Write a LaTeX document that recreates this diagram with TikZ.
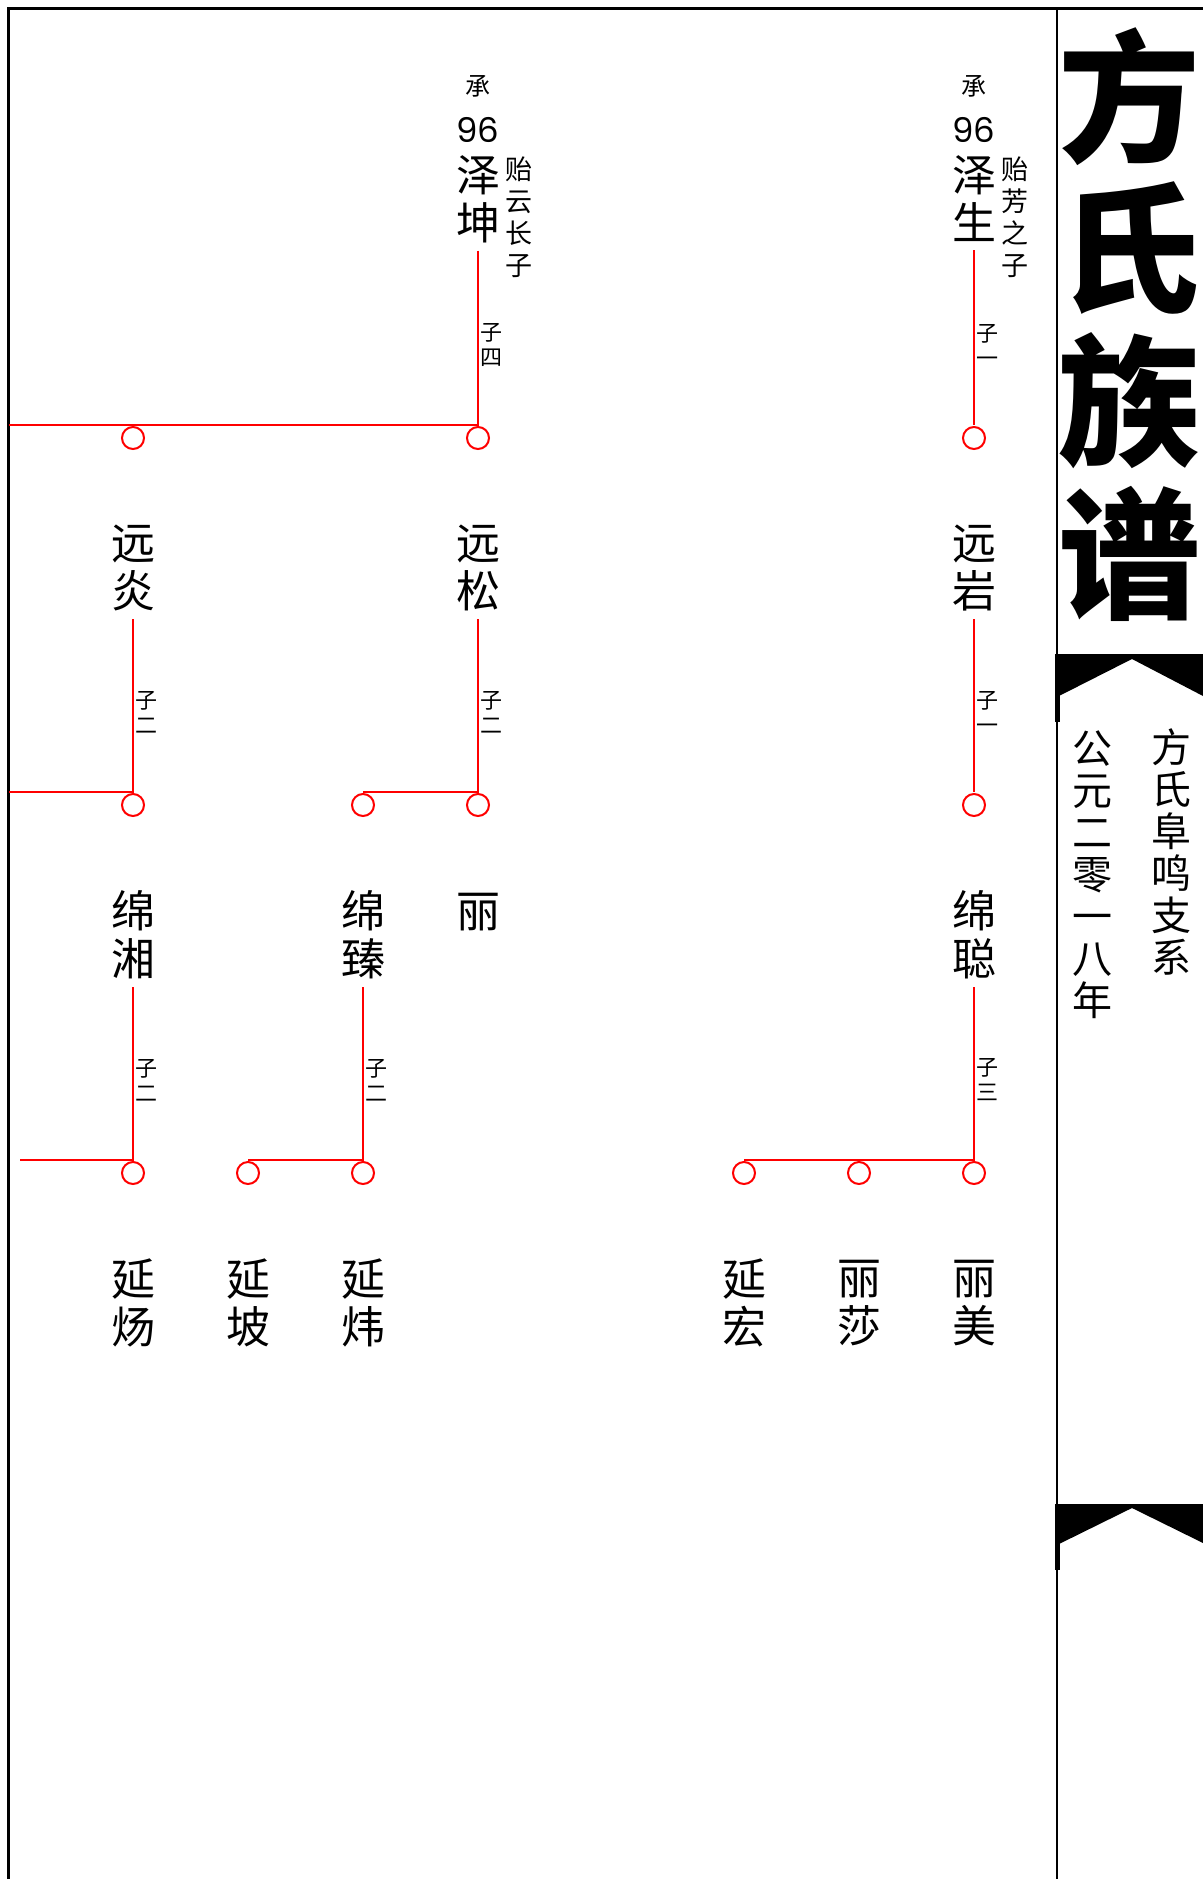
\documentclass[tikz,border=0pt]{standalone}
\usepackage{fontspec}
\setmainfont{Noto Sans CJK SC}
\newfontfamily\numfont{Poppins}
\begin{document}
\begin{tikzpicture}[x=0.5pt,y=-0.5pt,
  redline/.style={red, line width=1pt},
  frameline/.style={black, line width=1.4pt},
  kid/.style={circle, draw=red, line width=1pt, minimum size=11pt, inner sep=0pt},
  pname/.style={font=\fontsize{22pt}{24pt}\selectfont, align=center, inner sep=0pt, outer sep=4pt},
  pnote/.style={font=\fontsize{13.5pt}{16pt}\selectfont, align=center, inner sep=0pt},
  plab/.style={font=\fontsize{11pt}{12.5pt}\selectfont, align=center, inner sep=0pt},
  pcheng/.style={font=\fontsize{12.5pt}{12.5pt}\selectfont, inner sep=0pt},
  pnum/.style={font=\numfont\fontsize{17pt}{17pt}\selectfont, inner sep=0pt},
  ptitle/.style={font=\fontsize{71pt}{71pt}\selectfont\bfseries, inner sep=0pt},
  psub/.style={font=\fontsize{20pt}{21pt}\selectfont, align=center, inner sep=0pt}]
\useasboundingbox (0,0) rectangle (1203,1879);
\fill[white] (0,0) rectangle (1203,1879);

% frame
\draw[frameline] (8.5,1879) -- (8.5,8.5) -- (1203,8.5);
\draw[frameline] (1057,8.5) -- (1057,1879);
\fill[black] (1055,654) rectangle (1059.5,722);
\fill[black] (1055,1504) rectangle (1059.5,1570);
\fill[black] (1057,654) -- (1203,654) -- (1203,696) -- (1132,659) -- (1057,697) -- cycle;
\fill[black] (1057,1504) -- (1203,1504) -- (1203,1543) -- (1132,1508) -- (1057,1545) -- cycle;

% title
\node[ptitle] (t1) at (1129,97) {方};
\node[ptitle] (t2) at (1129,248) {氏};
\node[ptitle] (t3) at (1129,401) {族};
\node[ptitle] (t4) at (1129,554) {谱};
\node[psub] (sub1) at (1171,852) {方\\氏\\阜\\鸣\\支\\系};
\node[psub] (sub2) at (1092,875) {公\\元\\二\\零\\一\\八\\年};

% generation 1
\node[pcheng] (ch1) at (478,86) {承};
\node[pnum] (num1) at (478,130) {96};
\node[pname] (zekun) at (478,199) {泽\\坤};
\node[pnote] (zekunn) at (519,217) {贻\\云\\长\\子};
\node[pcheng] (ch2) at (974,86) {承};
\node[pnum] (num2) at (974,130) {96};
\node[pname] (zesheng) at (974,199) {泽\\生};
\node[pnote] (zeshengn) at (1015,217) {贻\\芳\\之\\子};

\coordinate (j1) at (478,425);
\coordinate (e1) at (8.5,425);
\coordinate (j2) at (974,425);
\node[kid] (k1) at (133,438) {};
\node[kid] (k2) at (478,438) {};
\node[kid] (k3) at (974,438) {};
\draw[redline] (zekun.south) -- (j1) -- (e1);
\draw[redline] (zesheng.south) -- (j2);
\node[plab] (l1) at (491,345) {子\\四};
\node[plab] (l2) at (987,345) {子\\一};

% generation 2
\node[pname] (yuanyan) at (133,568) {远\\炎};
\node[pname] (yuansong) at (478,568) {远\\松};
\node[pname] (yuanyan2) at (974,568) {远\\岩};

\coordinate (j3) at (133,792);
\coordinate (e2) at (8.5,792);
\coordinate (j4) at (478,792);
\coordinate (j5) at (974,792);
\node[kid] (k4) at (133,805) {};
\node[kid] (k5) at (363,805) {};
\node[kid] (k6) at (478,805) {};
\node[kid] (k7) at (974,805) {};
\draw[redline] (yuanyan.south) -- (j3) -- (e2);
\draw[redline] (yuansong.south) -- (j4) -- (j4 -| k5);
\draw[redline] (yuanyan2.south) -- (j5);
\node[plab] (l3) at (146,712) {子\\二};
\node[plab] (l4) at (491,712) {子\\二};
\node[plab] (l5) at (987,712) {子\\一};

% generation 3
\node[pname] (mianxiang) at (133,935) {绵\\湘};
\node[pname] (mianzhen) at (363,935) {绵\\臻};
\node[pname] (li) at (478,912) {丽};
\node[pname] (miancong) at (974,935) {绵\\聪};

\coordinate (j6) at (133,1160);
\coordinate (e3) at (20,1160);
\coordinate (j7) at (363,1160);
\coordinate (j8) at (974,1160);
\node[kid] (k8) at (133,1173) {};
\node[kid] (k9) at (248,1173) {};
\node[kid] (k10) at (363,1173) {};
\node[kid] (k11) at (744,1173) {};
\node[kid] (k12) at (859,1173) {};
\node[kid] (k13) at (974,1173) {};
\draw[redline] (mianxiang.south) -- (j6) -- (e3);
\draw[redline] (mianzhen.south) -- (j7) -- (j7 -| k9);
\draw[redline] (miancong.south) -- (j8) -- (j8 -| k11);
\node[plab] (l6) at (146,1080) {子\\二};
\node[plab] (l7) at (376,1080) {子\\二};
\node[plab] (l8) at (987,1080) {子\\三};

% generation 4
\node[pname] (yanyang) at (133,1303) {延\\炀};
\node[pname] (yanpo) at (248,1303) {延\\坡};
\node[pname] (yanwei) at (363,1303) {延\\炜};
\node[pname] (yanhong) at (744,1303) {延\\宏};
\node[pname] (lisha) at (859,1303) {丽\\莎};
\node[pname] (limei) at (974,1303) {丽\\美};
\end{tikzpicture}
\end{document}
